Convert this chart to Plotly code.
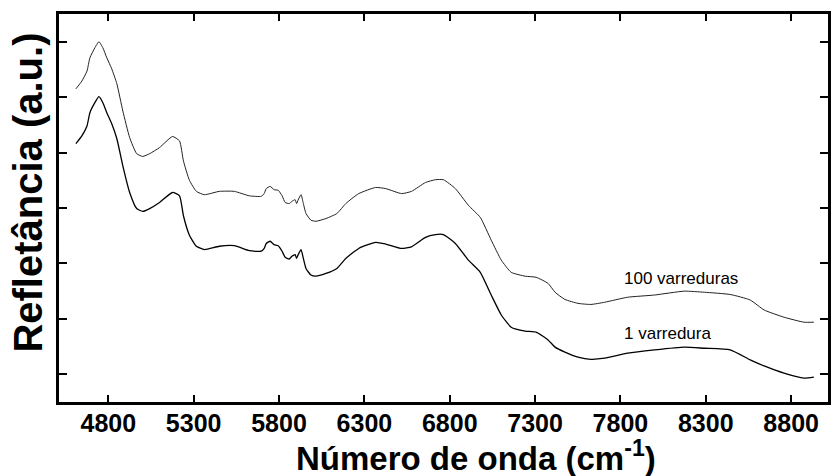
import plotly.graph_objects as go

# Wavenumber sampling (cm^-1) shared by both spectra
wavenumber = [
    4610, 4645, 4675, 4692, 4721, 4745, 4768, 4791, 4820, 4850,
    4885, 4925, 4966, 5001, 5042, 5100, 5176, 5217, 5240, 5275,
    5316, 5363, 5450, 5538, 5626, 5696, 5713, 5725, 5748, 5771,
    5795, 5818, 5836, 5859, 5876, 5894, 5903, 5911, 5929, 5941,
    5958, 5987, 6016, 6075, 6139, 6191, 6267, 6366, 6425, 6518,
    6576, 6658, 6716, 6763, 6833, 6909, 6979, 7043, 7102, 7160,
    7242, 7306, 7376, 7417, 7475, 7551, 7627, 7708, 7842, 8000,
    8175, 8292, 8443, 8560, 8642, 8758, 8875, 8933,
]

# Reflectance, averaged over 100 scans (arbitrary units)
refl_100 = [
    5.65, 5.79, 5.97, 6.21, 6.39, 6.50, 6.39, 6.21, 6.01, 5.74,
    5.25, 4.77, 4.48, 4.43, 4.48, 4.59, 4.79, 4.71, 4.35, 4.00,
    3.80, 3.74, 3.80, 3.80, 3.72, 3.71, 3.76, 3.85, 3.89, 3.83,
    3.82, 3.72, 3.60, 3.58, 3.62, 3.65, 3.58, 3.64, 3.74, 3.60,
    3.40, 3.28, 3.26, 3.31, 3.40, 3.58, 3.76, 3.87, 3.85, 3.76,
    3.80, 3.96, 4.01, 4.01, 3.85, 3.55, 3.33, 2.92, 2.56, 2.34,
    2.27, 2.25, 2.14, 1.98, 1.85, 1.78, 1.76, 1.80, 1.89, 1.93,
    2.00, 1.98, 1.94, 1.84, 1.66, 1.53, 1.44, 1.44,
]

# Reflectance from a single scan (arbitrary units)
refl_1 = [
    4.66, 4.80, 4.98, 5.22, 5.40, 5.51, 5.40, 5.22, 5.02, 4.75,
    4.26, 3.78, 3.49, 3.44, 3.49, 3.60, 3.78, 3.72, 3.36, 3.01,
    2.81, 2.75, 2.81, 2.82, 2.73, 2.72, 2.77, 2.86, 2.90, 2.84,
    2.82, 2.72, 2.61, 2.58, 2.63, 2.66, 2.59, 2.65, 2.75, 2.61,
    2.41, 2.29, 2.27, 2.32, 2.41, 2.59, 2.77, 2.88, 2.85, 2.77,
    2.80, 2.97, 3.02, 3.02, 2.86, 2.56, 2.34, 1.93, 1.57, 1.35,
    1.28, 1.26, 1.12, 0.99, 0.90, 0.81, 0.77, 0.79, 0.88, 0.94,
    0.99, 0.97, 0.94, 0.76, 0.65, 0.52, 0.43, 0.45,
]

x_ticks = [4800, 5300, 5800, 6300, 6800, 7300, 7800, 8300, 8800]
y_ticks = [0.5, 1.5, 2.5, 3.5, 4.5, 5.5, 6.5]

label_100 = "100 varreduras"
label_1 = "1 varredura"

FONT = "Arial, 'Liberation Sans', sans-serif"

fig = go.Figure()
fig.add_trace(go.Scatter(x=wavenumber, y=refl_100, mode="lines",
                         line=dict(color="#222222", width=1, shape="spline", smoothing=0.5),
                         name=label_100, showlegend=False))
fig.add_trace(go.Scatter(x=wavenumber, y=refl_1, mode="lines",
                         line=dict(color="#000000", width=1.3, shape="spline", smoothing=0.5),
                         name=label_1, showlegend=False))

fig.add_annotation(x=8152, y=2.23, text=label_100, showarrow=False,
                   font=dict(family=FONT, size=17, color="black"),
                   xanchor="center", yanchor="middle")
fig.add_annotation(x=8076, y=1.24, text=label_1, showarrow=False,
                   font=dict(family=FONT, size=17, color="black"),
                   xanchor="center", yanchor="middle")

# Axis titles placed as annotations
fig.add_annotation(xref="paper", yref="paper", x=(478 - 59) / 772, y=-(455.5 - 401.5) / 388,
                   text="<b>Número de onda (cm<sup>-1</sup>)</b>", showarrow=False,
                   font=dict(family=FONT, size=33, color="black"),
                   xanchor="center", yanchor="middle")
fig.add_annotation(xref="paper", yref="paper", x=-(59 - 27) / 772, y=(401.5 - 192) / 388,
                   text="<b>Refletância (a.u.)</b>", showarrow=False, textangle=-90,
                   font=dict(family=FONT, size=40, color="black"),
                   xanchor="center", yanchor="middle")

fig.update_xaxes(range=[4511, 9016], tickvals=x_ticks,
                 ticktext=[f"<b>{v}</b>" for v in x_ticks],
                 ticks="inside", ticklen=7, tickwidth=2, tickcolor="black",
                 showline=True, linewidth=3, linecolor="black", mirror="ticks",
                 showgrid=False, zeroline=False, ticklabelstandoff=-3,
                 tickfont=dict(family=FONT, size=25, color="black"))
fig.update_yaxes(range=[0, 7], tickvals=y_ticks, showticklabels=False,
                 ticks="inside", ticklen=8, tickwidth=2, tickcolor="black",
                 showline=True, linewidth=3, linecolor="black", mirror="ticks",
                 showgrid=False, zeroline=False)

fig.update_layout(width=833, height=476,
                  margin=dict(l=59, r=2, t=14, b=74),
                  paper_bgcolor="white", plot_bgcolor="white")

fig.write_html("out.html")
